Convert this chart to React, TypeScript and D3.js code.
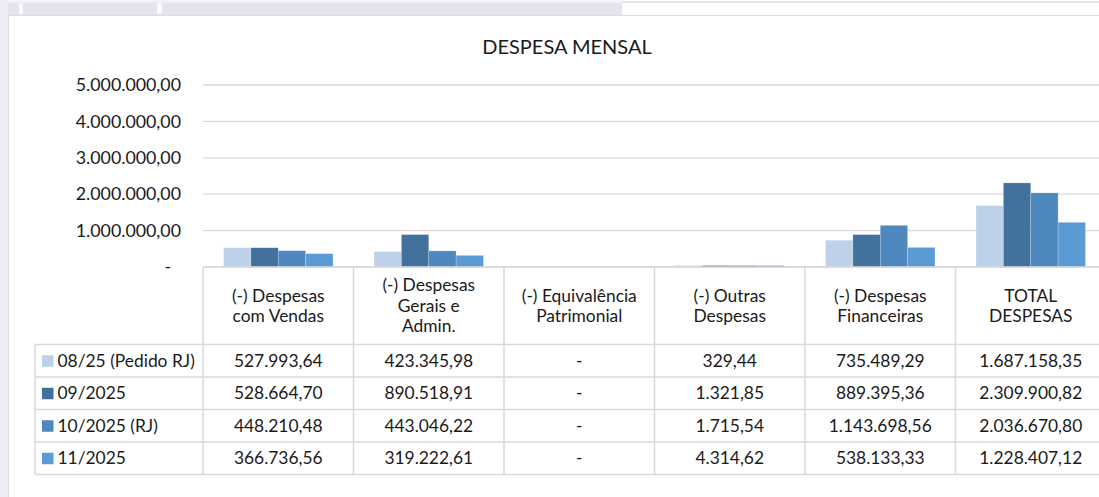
import React from 'react';
import * as d3 from 'd3';

const WIDTH = 1099;
const HEIGHT = 497;

// categories (header cells of the data table, already split in lines)
const categories = [
  ['(-) Despesas', 'com Vendas'],
  ['(-) Despesas', 'Gerais e', 'Admin.'],
  ['(-) Equivalência', 'Patrimonial'],
  ['(-) Outras', 'Despesas'],
  ['(-) Despesas', 'Financeiras'],
  ['TOTAL', 'DESPESAS'],
];

const seriesNames = ['08/25 (Pedido RJ)', '09/2025', '10/2025 (RJ)', '11/2025'];
const seriesColors = ['#bdd1ea', '#41719c', '#4f88be', '#5b9bd5'];

const s0825 = [527993.64, 423345.98, 0, 329.44, 735489.29, 1687158.35];
const s0925 = [528664.7, 890518.91, 0, 1321.85, 889395.36, 2309900.82];
const s1025 = [448210.48, 443046.22, 0, 1715.54, 1143698.56, 2036670.8];
const s1125 = [366736.56, 319222.61, 0, 4314.62, 538133.33, 1228407.12];
const seriesValues = [s0825, s0925, s1025, s1125];

const yTicks = [0, 1000000, 2000000, 3000000, 4000000, 5000000];

const FONT = 'Lato, "Open Sans", sans-serif';
const GRID = '#d9d9d9';
const INK = '#1a1a1a';
const TABLE_FS = 17.4;

const br = d3.formatLocale({ decimal: ',', thousands: '.', grouping: [3], currency: ['', ''] });
const fmt = (v: number) => (v === 0 ? '-' : br.format(',.2f')(v));

export default function App() {
  const plotLeft = 203;
  const catW = 150.5;
  const plotTop = 85;
  const plotBottom = 267;
  const headerBottom = 344.5;
  const rowH = 32.5;
  const legendLeft = 35;

  const catKeys = categories.map((c) => c.join(' '));
  const x = d3.scaleBand().domain(catKeys).range([plotLeft, plotLeft + catW * categories.length]);
  const gap = catW * 0.6 / 2.2; // roughly Excel gap width 150%
  const xs = d3.scaleBand().domain(seriesNames).range([gap / 2, catW - gap / 2]);
  const y = d3.scaleLinear().domain([0, 5000000]).range([plotBottom, plotTop]);

  const tableBottom = headerBottom + rowH * seriesNames.length;

  return (
    <svg
      width={WIDTH}
      height={HEIGHT}
      style={{ position: 'absolute', left: 0, top: 0, display: 'block', background: '#fff' }}
      fontFamily={FONT}
    >
      {/* surroundings of the pasted chart */}
      <rect x={0} y={0} width={WIDTH} height={HEIGHT} fill="#ffffff" />
      <rect x={0} y={0} width={622} height={15} fill="#e4e4ee" />
      <rect x={0} y={0} width={622} height={2.5} fill="#f4f4f8" />
      <rect x={622} y={0} width={WIDTH - 622} height={15} fill="#ffffff" />
      <line x1={622} x2={WIDTH} y1={2} y2={2} stroke="#e4e4ee" strokeWidth={2} />
      <rect x={0} y={0} width={8} height={HEIGHT} fill="#ececf3" />
      <rect x={19} y={3} width={4} height={11} rx={2} fill="#ffffff" opacity={0.8} />
      <rect x={157} y={3} width={5} height={11} rx={2} fill="#ffffff" opacity={0.8} />
      <line x1={8.5} x2={8.5} y1={15} y2={HEIGHT} stroke="#dcdce2" />
      <line x1={8} x2={WIDTH} y1={15.5} y2={15.5} stroke="#dcdce2" />

      {/* title */}
      <text x={567} y={54} textAnchor="middle" fontSize={20} fill={INK}>
        DESPESA MENSAL
      </text>

      {/* gridlines + y labels */}
      {yTicks.map((t) => (
        <g key={t}>
          <line x1={plotLeft} x2={WIDTH} y1={y(t)} y2={y(t)} stroke={GRID} strokeWidth={1.3} />
          <text
            x={t === 0 ? 171 : 181}
            y={y(t)}
            dy="0.35em"
            textAnchor="end"
            fontSize={17.8}
            fill={INK}
          >
            {fmt(t)}
          </text>
        </g>
      ))}

      {/* bars */}
      {categories.map((c, ci) => (
        <g key={catKeys[ci]} transform={`translate(${x(catKeys[ci])},0)`}>
          {seriesNames.map((s, si) => {
            const v = seriesValues[si][ci];
            if (!v) return null;
            const h = Math.max(plotBottom - y(v), 1.5);
            return (
              <rect
                key={s}
                x={xs(s)}
                y={plotBottom - h}
                width={xs.bandwidth()}
                height={h}
                fill={seriesColors[si]}
                stroke="#ffffff"
                strokeOpacity={0.35}
                strokeWidth={0.6}
              />
            );
          })}
        </g>
      ))}

      {/* data table */}
      <g stroke={GRID} strokeWidth={1.5} fill="none">
        <line x1={plotLeft} x2={WIDTH} y1={plotBottom} y2={plotBottom} />
        {d3.range(seriesNames.length + 1).map((i) => (
          <line key={i} x1={legendLeft} x2={WIDTH} y1={headerBottom + i * rowH} y2={headerBottom + i * rowH} />
        ))}
        <line x1={legendLeft} x2={legendLeft} y1={headerBottom} y2={tableBottom} />
        {catKeys.map((k) => (
          <line key={k} x1={x(k)} x2={x(k)} y1={plotBottom} y2={tableBottom} />
        ))}
      </g>

      {categories.map((c, ci) => {
        const cx = (x(catKeys[ci]) as number) + catW / 2;
        const mid = (plotBottom + headerBottom) / 2;
        const lh = 20.5;
        return (
          <text key={catKeys[ci]} textAnchor="middle" fontSize={TABLE_FS} fill={INK}>
            {c.map((line, li) => (
              <tspan key={li} x={cx} y={mid + (li - (c.length - 1) / 2) * lh} dy="0.35em">
                {line}
              </tspan>
            ))}
          </text>
        );
      })}

      {seriesNames.map((s, si) => {
        const cy = headerBottom + si * rowH + rowH / 2;
        return (
          <g key={s}>
            <rect x={42} y={cy - 5.5} width={11.5} height={11.5} fill={seriesColors[si]} />
            <text x={57.5} y={cy} dy="0.35em" fontSize={TABLE_FS} fill={INK}>
              {s}
            </text>
            {categories.map((c, ci) => (
              <text
                key={ci}
                x={(x(catKeys[ci]) as number) + catW / 2}
                y={cy}
                dy="0.35em"
                textAnchor="middle"
                fontSize={TABLE_FS}
                fill={INK}
              >
                {fmt(seriesValues[si][ci])}
              </text>
            ))}
          </g>
        );
      })}
    </svg>
  );
}
